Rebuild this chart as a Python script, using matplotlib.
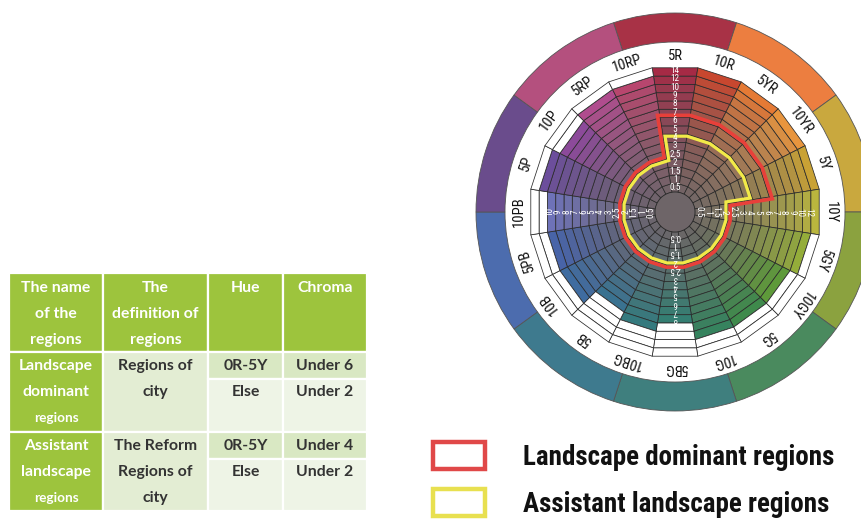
import numpy as np
import matplotlib
matplotlib.use('Agg')
import matplotlib.pyplot as plt
from matplotlib import font_manager as fm
from matplotlib.patches import Wedge, Rectangle, Circle, Polygon, Patch
from matplotlib.collections import PolyCollection
from matplotlib.colors import to_rgb


# DATA
hues = ['5R', '10R', '5YR', '10YR', '5Y', '10Y', '5GY', '10GY', '5G', '10G',
        '5BG', '10BG', '5B', '10B', '5PB', '10PB', '5P', '10P', '5RP', '10RP']
hue_colors = ['#a62a45', '#c8472f', '#e57a35', '#e8953e', '#c9a235', '#bab63e',
              '#94ad3a', '#5e9a3a', '#3f8a4c', '#36835e', '#347e72', '#357a7e',
              '#3a7290', '#3f6ca0', '#4864a8', '#6e72b8', '#6c4e9c', '#8c4a9a',
              '#b04c8e', '#b8466e']
max_chroma = [14, 14, 14, 14, 14, 14, 12, 10, 10, 10,
              8, 9, 8, 10, 10, 10, 12, 10, 12, 12]
chroma_steps = [0.5, 1, 1.5, 2, 2.5, 3, 4, 5, 6, 7, 8, 9, 10, 12, 14]
labelled_hues = ['5R', '10Y', '5BG', '10PB']
labelled_top = [14, 12, 8, 10]

major_hues = ['R', 'YR', 'Y', 'GY', 'G', 'BG', 'B', 'PB', 'P', 'RP']
major_colors = ['#a83246', '#ec7e40', '#c9a83e', '#8ba23f', '#4a8a5e',
                '#3f7f7e', '#3e7a8e', '#4c6cae', '#6a4c8c', '#b4507e']

# chroma limit of each region, hue by hue (0R-5Y first)
dominant_limit = [6, 6, 6, 6, 6, 2, 2, 2, 2, 2, 2, 2, 2, 2, 2, 2, 2, 2, 2, 2]
assistant_limit = [4, 4, 4, 4, 4, 2, 2, 2, 2, 2, 2, 2, 2, 2, 2, 2, 2, 2, 2, 2]

legend_labels = ['Landscape dominant regions', 'Assistant landscape regions']

table_header = [['The name', 'of the', 'regions'],
                ['The', 'definition of', 'regions'],
                ['Hue'], ['Chroma']]
region_names = [['Landscape', 'dominant', 'regions'],
                ['Assistant', 'landscape', 'regions']]
region_defs = [['Regions of', 'city'], ['The Reform', 'Regions of', 'city']]
hue_rules = [['0R-5Y', 'Else'], ['0R-5Y', 'Else']]
chroma_rules = [['Under 6', 'Under 2'], ['Under 4', 'Under 2']]

# pick a narrow face if one is installed
font_names = {f.name for f in fm.fontManager.ttflist}
narrow_name = 'DejaVu Sans'
for cand in ['Liberation Sans Narrow', 'Roboto Condensed', 'Open Sans Condensed',
             'DejaVu Sans Condensed']:
    if cand in font_names:
        narrow_name = cand
        break
has_narrow = narrow_name != 'DejaVu Sans' or any(
    f.name == 'DejaVu Sans' and f.stretch == 'condensed' for f in fm.fontManager.ttflist)
narrow = [narrow_name, 'DejaVu Sans']
tfont = ['Lato', 'DejaVu Sans']

fig = plt.figure(figsize=(8.62, 5.22), dpi=100)
ax = fig.add_axes([0, 0, 1, 1])
ax.set_xlim(0, 862)
ax.set_ylim(522, 0)
ax.axis('off')

# wheel geometry
cx, cy = 675, 212
r0, dr = 20, 8.4
radii = r0 + dr * np.arange(len(chroma_steps) + 1)


def pt(theta, r):
    t = np.radians(theta)
    return cx + r * np.sin(t), cy - r * np.cos(t)


gray = np.array(to_rgb('#6e6568'))
polys = []
fcs = []
for j, h in enumerate(hues):
    a0, a1 = 18 * j - 9, 18 * j + 9
    full = np.array(to_rgb(hue_colors[j]))
    for k, c in enumerate(chroma_steps):
        polys.append([pt(a0, radii[k]), pt(a1, radii[k]),
                      pt(a1, radii[k + 1]), pt(a0, radii[k + 1])])
        if c <= max_chroma[j]:
            t = (c / max_chroma[j]) ** 0.85
            fcs.append(gray + (full - gray) * t)
        else:
            fcs.append((1, 1, 1))
ax.add_collection(PolyCollection(polys, facecolors=fcs, edgecolors='#2a2a2a',
                                 linewidths=0.55))
ax.add_patch(Circle((cx, cy), r0, fc=gray, ec='#2a2a2a', lw=0.6))

# outer ring of the ten major hues
for i, col in enumerate(major_colors):
    th = 36 * i
    ax.add_patch(Wedge((cx, cy), 199, th - 108, th - 72, width=29,
                       fc=col, ec='#555555', lw=0.6))

# hue names
hue_fs = 10.5 if has_narrow else 8.5
num_fs = 6.6 if has_narrow else 4.8
for j, h in enumerate(hues):
    x, y = pt(18 * j, 156)
    ax.text(x, y, h, rotation=-18 * j, rotation_mode='anchor', ha='center',
            va='center', fontsize=hue_fs, family=narrow, stretch='condensed',
            color='#111111')

# chroma numbers on four columns
for h, top in zip(labelled_hues, labelled_top):
    j = hues.index(h)
    for k, c in enumerate(chroma_steps):
        if c > top:
            break
        x, y = pt(18 * j, (radii[k] + radii[k + 1]) / 2)
        ax.text(x, y, f'{c:g}', rotation=-18 * j, rotation_mode='anchor',
                ha='center', va='center', fontsize=num_fs, family=narrow,
                stretch='condensed', color='white')


def outline(limits):
    pts = []
    for j, lim in enumerate(limits):
        r = radii[chroma_steps.index(lim) + 1]
        for a in (18 * j - 9, 18 * j + 9):
            p = pt(a, r)
            if not pts or np.hypot(p[0] - pts[-1][0], p[1] - pts[-1][1]) > 1e-6:
                pts.append(p)
    if np.hypot(pts[0][0] - pts[-1][0], pts[0][1] - pts[-1][1]) < 1e-6:
        pts.pop()
    return np.array(pts)


def offset(P, d):
    area = 0.5 * np.sum(P[:, 0] * np.roll(P[:, 1], -1) - np.roll(P[:, 0], -1) * P[:, 1])
    s = 1 if area > 0 else -1
    E = np.roll(P, -1, axis=0) - P
    N = s * np.column_stack([E[:, 1], -E[:, 0]]) / np.linalg.norm(E, axis=1)[:, None]
    Np = np.roll(N, 1, axis=0)
    M = (N + Np) / (1 + np.sum(N * Np, axis=1))[:, None]
    return P + d * M


red = '#e8403a'
yellow = '#f2ea48'
ax.add_patch(Polygon(offset(outline(dominant_limit), 2.2), closed=True,
                     fill=False, ec=red, lw=2.6, joinstyle='miter'))
ax.add_patch(Polygon(offset(outline(assistant_limit), -2.0), closed=True,
                     fill=False, ec=yellow, lw=2.3, joinstyle='miter'))

# legend: size the text so the first label spans ~310 px
probe = ax.text(0, 0, legend_labels[0], fontsize=20, family=narrow,
                stretch='condensed', weight='bold')
fig.canvas.draw()
wpx = probe.get_window_extent(fig.canvas.get_renderer()).width
probe.remove()
leg_fs = 20 * 310 / wpx
fpx = leg_fs * 100 / 72
handles = [Patch(fc='white', ec='#e04848', lw=3.2),
           Patch(fc='white', ec='#e8e050', lw=3.2)]
leg = ax.legend(handles, legend_labels, loc='upper left',
                bbox_to_anchor=(433, 442), bbox_transform=ax.transData,
                frameon=False, borderpad=0, borderaxespad=0,
                handlelength=52 / fpx, handleheight=32 / fpx,
                handletextpad=38 / fpx, labelspacing=(50 - 32) / fpx,
                prop={'family': narrow, 'size': leg_fs, 'weight': 'bold',
                      'stretch': 'condensed'})
for t in leg.get_texts():
    t.set_color('#111111')

# table
green = '#9dc43d'
c_def = '#e3edd3'
c_sub1 = '#d9e8c3'
c_sub2 = '#eef4e6'
col_x = [9, 103, 208, 283, 367]
head_y = (273, 352)
group_y = [(352, 379, 432), (432, 459, 511)]
line_h = 25.8


def cell(x0, x1, y0, y1, fc):
    ax.add_patch(Rectangle((x0, y0), x1 - x0, y1 - y0, fc=fc, ec='white', lw=1.6))


def lines(xc, ytop, texts, color, size=11.3):
    for i, s in enumerate(texts):
        sz = size
        if s == 'regions' and color == 'white' and ytop > 300:
            sz = size - 1.5
        ax.text(xc, ytop + i * line_h, s, ha='center', va='center',
                fontsize=sz, family=tfont, weight='bold', color=color)


for i, texts in enumerate(table_header):
    cell(col_x[i], col_x[i + 1], head_y[0], head_y[1], green)
    lines((col_x[i] + col_x[i + 1]) / 2, 288, texts, 'white')

for g, (y0, ym, y1) in enumerate(group_y):
    cell(col_x[0], col_x[1], y0, y1, green)
    cell(col_x[1], col_x[2], y0, y1, c_def)
    for c in (2, 3):
        cell(col_x[c], col_x[c + 1], y0, ym, c_sub1)
        cell(col_x[c], col_x[c + 1], ym, y1, c_sub2)
    ytop = y0 + 14
    lines((col_x[0] + col_x[1]) / 2, ytop, region_names[g], 'white')
    lines((col_x[1] + col_x[2]) / 2, ytop, region_defs[g], '#333333')
    lines((col_x[2] + col_x[3]) / 2, ytop, hue_rules[g], '#333333')
    lines((col_x[3] + col_x[4]) / 2, ytop, chroma_rules[g], '#333333')

fig.savefig('out.png', dpi=100)
